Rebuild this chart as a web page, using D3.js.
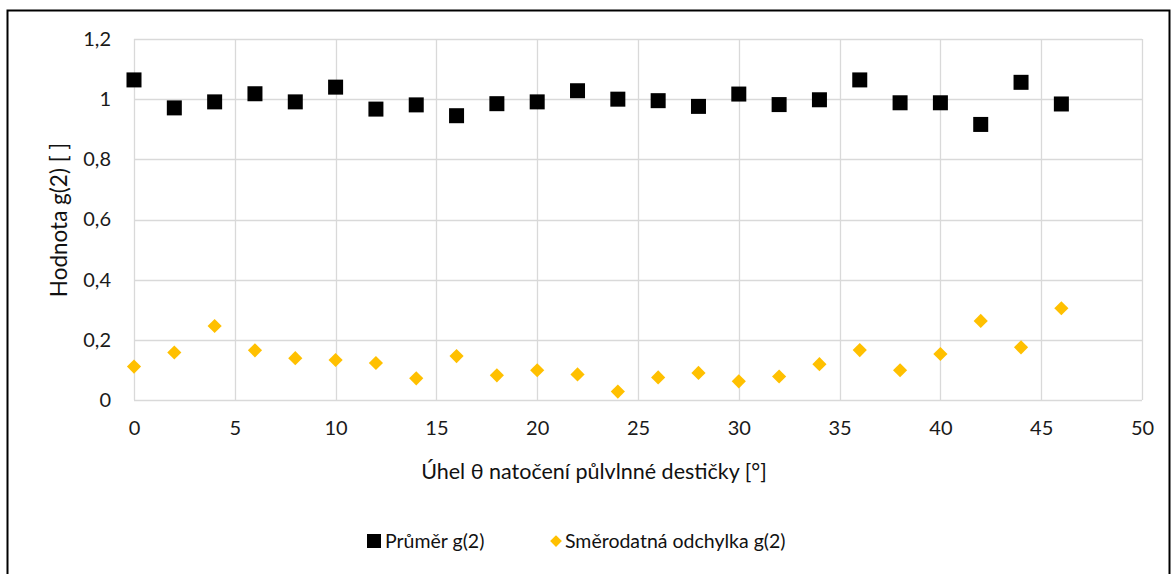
<!DOCTYPE html>
<html><head><meta charset="utf-8">
<script src="https://cdn.jsdelivr.net/npm/d3@7"></script>
<style>body{margin:0;background:#fff}svg{display:block}</style>
</head><body>
<svg id="c" width="1172" height="574"></svg>
<script>
const angles = [0,2,4,6,8,10,12,14,16,18,20,22,24,26,28,30,32,34,36,38,40,42,44,46];
const meanG2 = [1.064,0.971,0.991,1.018,0.991,1.040,0.967,0.981,0.945,0.985,0.991,1.028,1.000,0.995,0.976,1.017,0.982,0.998,1.064,0.988,0.988,0.916,1.056,0.984];
const stdG2  = [0.111,0.158,0.246,0.165,0.139,0.133,0.123,0.072,0.146,0.082,0.099,0.085,0.028,0.075,0.090,0.062,0.078,0.119,0.166,0.099,0.153,0.263,0.175,0.305];
const xTicks = [0,5,10,15,20,25,30,35,40,45,50];
const yTicks = [0,0.2,0.4,0.6,0.8,1.0,1.2];
const seriesNames = ["Průměr g(2)","Směrodatná odchylka g(2)"];
const xTitle = "Úhel θ natočení půlvlnné destičky [°]";
const yTitle = "Hodnota g(2) [ ]";

const font = "Lato, 'Open Sans', sans-serif";
const svg = d3.select("#c");
const W=1172,H=574;
const x = d3.scaleLinear().domain([0,50]).range([134,1142]);
const y = d3.scaleLinear().domain([0,1.2]).range([400,39]);
const fmt = v => String(Math.round(v*10)/10).replace(".",",");

svg.append("rect").attr("x",7.5).attr("y",10.5).attr("width",1162).attr("height",H).attr("fill","#fff").attr("stroke","#000").attr("stroke-width",2);

// gridlines
svg.append("g").selectAll("line").data(yTicks).join("line")
  .attr("x1",x(0)).attr("x2",x(50)).attr("y1",d=>Math.round(y(d))+0.5).attr("y2",d=>Math.round(y(d))+0.5)
  .attr("stroke","#d9d9d9").attr("stroke-width",1.3);
svg.append("g").selectAll("line").data(xTicks).join("line")
  .attr("y1",y(0)).attr("y2",y(1.2)).attr("x1",d=>Math.round(x(d))+0.5).attr("x2",d=>Math.round(x(d))+0.5)
  .attr("stroke","#d9d9d9").attr("stroke-width",1.3);

// axes labels via d3 axes
const gy = svg.append("g").attr("transform","translate(134,0)")
  .call(d3.axisLeft(y).tickValues(yTicks).tickFormat(fmt).tickSize(0).tickPadding(23));
gy.select(".domain").remove();
gy.selectAll("text").attr("font-family",font).attr("font-size",20).attr("fill","#1a1a1a");
const gx = svg.append("g").attr("transform","translate(0,400)")
  .call(d3.axisBottom(x).tickValues(xTicks).tickFormat(d=>d).tickSize(0).tickPadding(21));
gx.select(".domain").remove();
gx.selectAll("text").attr("font-family",font).attr("font-size",20).attr("fill","#1a1a1a");

// titles
svg.append("text").attr("x",594).attr("y",479).attr("text-anchor","middle")
  .attr("font-family",font).attr("font-size",21.5).attr("fill","#111").text(xTitle);
svg.append("text").attr("transform","translate(67,220) rotate(-90)").attr("text-anchor","middle")
  .attr("font-family",font).attr("font-size",22.5).attr("fill","#111").text(yTitle);

// points
const sq = 15;
svg.append("g").selectAll("rect").data(angles).join("rect")
  .attr("x",(d)=>x(d)-sq/2).attr("y",(d,i)=>y(meanG2[i])-sq/2)
  .attr("width",sq).attr("height",sq).attr("fill","#000");
const dsym = d3.symbol().type(d3.symbolDiamond2).size(128);
svg.append("g").selectAll("path").data(angles).join("path")
  .attr("transform",(d,i)=>`translate(${x(d)},${y(stdG2[i])})`)
  .attr("d",dsym).attr("fill","#FFC000");

// legend
const lg = svg.append("g");
lg.append("rect").attr("x",367).attr("y",534).attr("width",14).attr("height",14).attr("fill","#000");
lg.append("text").attr("x",385).attr("y",548).attr("font-family",font).attr("font-size",19.5).attr("fill","#111").text(seriesNames[0]);
lg.append("path").attr("transform","translate(556,541)").attr("d",d3.symbol().type(d3.symbolDiamond2).size(88)).attr("fill","#FFC000");
lg.append("text").attr("x",565).attr("y",548).attr("font-family",font).attr("font-size",19.5).attr("fill","#111").text(seriesNames[1]);
</script>
</body></html>
